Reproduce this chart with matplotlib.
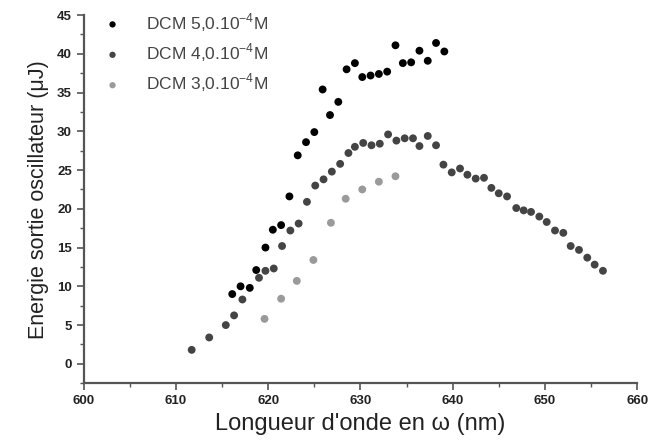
import matplotlib
matplotlib.use('Agg')
import matplotlib.pyplot as plt
from matplotlib.ticker import MultipleLocator

plt.rcParams['font.family'] = ['Liberation Sans', 'DejaVu Sans']
plt.rcParams['mathtext.fontset'] = 'custom'
plt.rcParams['mathtext.rm'] = 'Liberation Sans'

# DCM 5,0.10^-4 M
dcm5_x = [616.1, 617.0, 618.0, 618.7, 619.7, 620.5, 621.4, 622.3, 623.2, 624.1,
          625.0, 625.9, 626.7, 627.6, 628.5, 629.4, 630.2, 631.1, 632.0, 632.9,
          633.8, 634.6, 635.5, 636.4, 637.3, 638.2, 639.1]
dcm5_y = [9.0, 10.0, 9.8, 12.1, 15.0, 17.3, 17.9, 21.6, 26.9, 28.6,
          29.9, 35.4, 32.1, 33.8, 38.0, 38.8, 37.0, 37.2, 37.4, 37.7,
          41.1, 38.8, 38.9, 40.4, 39.1, 41.4, 40.3]

# DCM 4,0.10^-4 M
dcm4_x = [611.7, 613.6, 615.4, 616.3, 617.2, 619.0, 619.7, 620.6, 621.5, 622.4,
          623.3, 624.2, 625.1, 626.0, 626.9, 627.8, 628.7, 629.4, 630.3, 631.2,
          632.1, 633.0, 633.9, 634.8, 635.7, 636.4, 637.3, 638.2, 639.0, 639.9,
          640.8, 641.6, 642.5, 643.4, 644.2, 645.0, 645.9, 646.9, 647.7, 648.5,
          649.4, 650.2, 651.1, 652.0, 652.8, 653.7, 654.6, 655.4, 656.3]
dcm4_y = [1.8, 3.4, 5.0, 6.25, 8.3, 11.1, 12.0, 12.3, 15.2, 17.2,
          18.1, 20.9, 23.0, 23.8, 24.8, 25.8, 27.2, 28.0, 28.5, 28.2,
          28.4, 29.6, 28.8, 29.1, 29.1, 28.1, 29.4, 28.2, 25.7, 24.7,
          25.2, 24.4, 23.9, 24.0, 22.7, 22.0, 21.6, 20.1, 19.8, 19.6,
          19.0, 18.3, 17.2, 16.9, 15.2, 14.7, 13.7, 12.8, 12.0]

# DCM 3,0.10^-4 M
dcm3_x = [619.6, 621.4, 623.1, 624.9, 626.8, 628.4, 630.2, 632.0, 633.8]
dcm3_y = [5.8, 8.4, 10.7, 13.4, 18.2, 21.3, 22.5, 23.5, 24.2]

fig = plt.figure(figsize=(6.65, 4.43), dpi=100)
ax = fig.add_axes([0.126, 0.135, 0.832, 0.831])

ax.scatter(dcm5_x, dcm5_y, s=32, color='#000000', edgecolors='none', label='DCM 5,0.10$^{-4}$M')
ax.scatter(dcm4_x, dcm4_y, s=32, color='#444444', edgecolors='none', label='DCM 4,0.10$^{-4}$M')
ax.scatter(dcm3_x, dcm3_y, s=32, color='#9a9a9a', edgecolors='none', label='DCM 3,0.10$^{-4}$M')

ax.set_xlim(600, 660)
ax.set_ylim(-2.5, 45)
ax.xaxis.set_major_locator(MultipleLocator(10))
ax.xaxis.set_minor_locator(MultipleLocator(5))
ax.yaxis.set_major_locator(MultipleLocator(5))
ax.yaxis.set_minor_locator(MultipleLocator(2.5))

for side in ['top', 'right']:
    ax.spines[side].set_visible(False)
for side in ['left', 'bottom']:
    ax.spines[side].set_color('#555555')
    ax.spines[side].set_linewidth(1.6)

ax.tick_params(which='major', direction='out', length=5, width=1.2, color='#555555',
               labelsize=9.5, labelcolor='#222222')
ax.tick_params(which='minor', direction='out', length=3, width=1, color='#555555')
for lab in ax.get_xticklabels() + ax.get_yticklabels():
    lab.set_fontweight('bold')

ax.set_xlabel("Longueur d'onde en ω (nm)", fontsize=17, color='#222222', labelpad=4)
ax.set_ylabel('Energie sortie oscillateur (μJ)', fontsize=15.5, color='#222222', labelpad=6)

leg = ax.legend(loc='upper left', frameon=False, fontsize=12.5, markerscale=0.8,
                handletextpad=0.9, labelspacing=0.45, borderaxespad=0.0,
                bbox_to_anchor=(0.008, 1.03))
for t in leg.get_texts():
    t.set_color('#444444')

fig.savefig('out.png', dpi=100)
